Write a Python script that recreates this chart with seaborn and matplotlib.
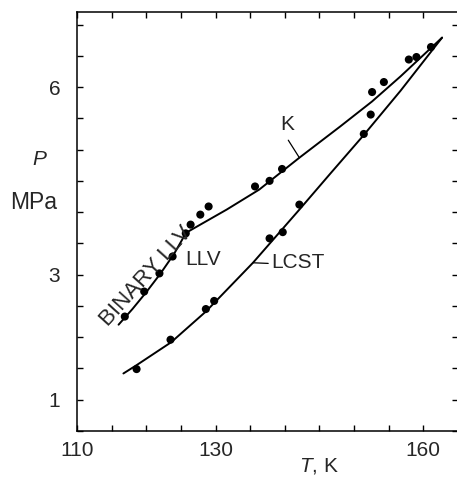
import matplotlib
matplotlib.use("Agg")
import matplotlib.pyplot as plt
import pandas as pd
import seaborn as sns
from matplotlib.ticker import FixedLocator

# measured points (T in K, P in MPa)
llv_T = [116.9, 119.7, 121.9, 123.8, 125.7]
llv_P = [2.33, 2.73, 3.02, 3.29, 3.66]

k_T = [126.4, 127.8, 129.0, 135.7, 137.8, 139.6, 152.6, 154.3, 157.9, 159.0, 161.1]
k_P = [3.80, 3.96, 4.09, 4.41, 4.50, 4.69, 5.92, 6.08, 6.44, 6.48, 6.64]

lcst_T = [118.6, 123.5, 128.6, 129.8, 137.8, 139.7, 142.1, 151.4, 152.4]
lcst_P = [1.49, 1.96, 2.45, 2.58, 3.58, 3.68, 4.12, 5.25, 5.56]

# fitted curves
llv_curve_T = [116.0, 118.0, 120.0, 122.0, 124.0, 125.75]
llv_curve_P = [2.20, 2.45, 2.72, 3.01, 3.33, 3.67]

k_curve_T = [125.75, 127.8, 131.6, 136.3, 142.1, 148.0, 152.6, 156.7, 162.7]
k_curve_P = [3.67, 3.80, 4.04, 4.36, 4.87, 5.37, 5.77, 6.17, 6.79]

lcst_curve_T = [116.7, 118.7, 123.6, 128.6, 135.4, 142.1, 146.6, 151.3, 156.7, 162.7]
lcst_curve_P = [1.42, 1.56, 1.92, 2.41, 3.19, 4.04, 4.62, 5.22, 5.94, 6.79]

x_ticks = list(range(110, 170, 5))
x_labels = {110: "110", 130: "130", 160: "160"}
y_ticks = [0.5 + 0.5 * i for i in range(14)]
y_labels = {1.0: "1", 3.0: "3", 6.0: "6"}

sns.set_style("ticks")
plt.rcParams["font.family"] = ["Liberation Sans", "DejaVu Sans"]
plt.rcParams["mathtext.fontset"] = "custom"
plt.rcParams["mathtext.rm"] = "Liberation Sans"
plt.rcParams["mathtext.it"] = "Liberation Sans:italic"

fig = plt.figure(figsize=(4.57, 4.82), dpi=100)
ax = fig.add_axes([77 / 457, 1 - 431 / 482, (458 - 77) / 457, (431 - 12) / 482])

curves = [
    (llv_curve_T, llv_curve_P),
    (k_curve_T, k_curve_P),
    (lcst_curve_T, lcst_curve_P),
]
for cT, cP in curves:
    sns.lineplot(x=cT, y=cP, sort=False, estimator=None, color="black", lw=1.4, ax=ax)

pts = pd.DataFrame({
    "T": llv_T + k_T + lcst_T,
    "P": llv_P + k_P + lcst_P,
})
sns.scatterplot(data=pts, x="T", y="P", color="black", s=34, edgecolor="none", ax=ax, zorder=3)

ax.set_xlim(110, 165)
ax.set_ylim(0.5, 7.2)
ax.set_xlabel("")
ax.set_ylabel("")

ax.xaxis.set_major_locator(FixedLocator(x_ticks))
ax.yaxis.set_major_locator(FixedLocator(y_ticks))
ax.set_xticklabels([x_labels.get(t, "") for t in x_ticks])
ax.set_yticklabels([y_labels.get(t, "") for t in y_ticks])
ax.tick_params(direction="in", length=4.5, width=1, labelsize=15,
               top=True, right=True, color="black")
ax.tick_params(axis="x", pad=7)
ax.tick_params(axis="y", pad=12)

for side in ["left", "bottom", "top"]:
    ax.spines[side].set_visible(True)
    ax.spines[side].set_linewidth(1.1)
    ax.spines[side].set_color("black")
ax.spines["right"].set_visible(False)

# labels on the curves
tsize = 15
ax.text(119.95, 2.98, "BINARY LLV", rotation=48, rotation_mode="anchor",
        ha="center", va="center", fontsize=16)
ax.text(128.25, 3.24, "LLV", ha="center", va="center", fontsize=tsize)
ax.text(140.4, 5.40, "K", ha="center", va="center", fontsize=tsize)
ax.plot([140.5, 142.1], [5.15, 4.87], color="black", lw=0.9)
ax.text(138.1, 3.19, "LCST", ha="left", va="center", fontsize=tsize)
ax.plot([135.4, 137.6], [3.19, 3.18], color="black", lw=0.9)

# axis titles
fig.text(40 / 457, 1 - 160 / 482, "$P$", ha="center", va="center", fontsize=tsize)
fig.text(34 / 457, 1 - 202 / 482, "MPa", ha="center", va="center", fontsize=16.5)
fig.text(319 / 457, 1 - 466 / 482, "$T$, K", ha="center", va="center", fontsize=tsize)

fig.savefig("out.png", dpi=100)
plt.close(fig)
